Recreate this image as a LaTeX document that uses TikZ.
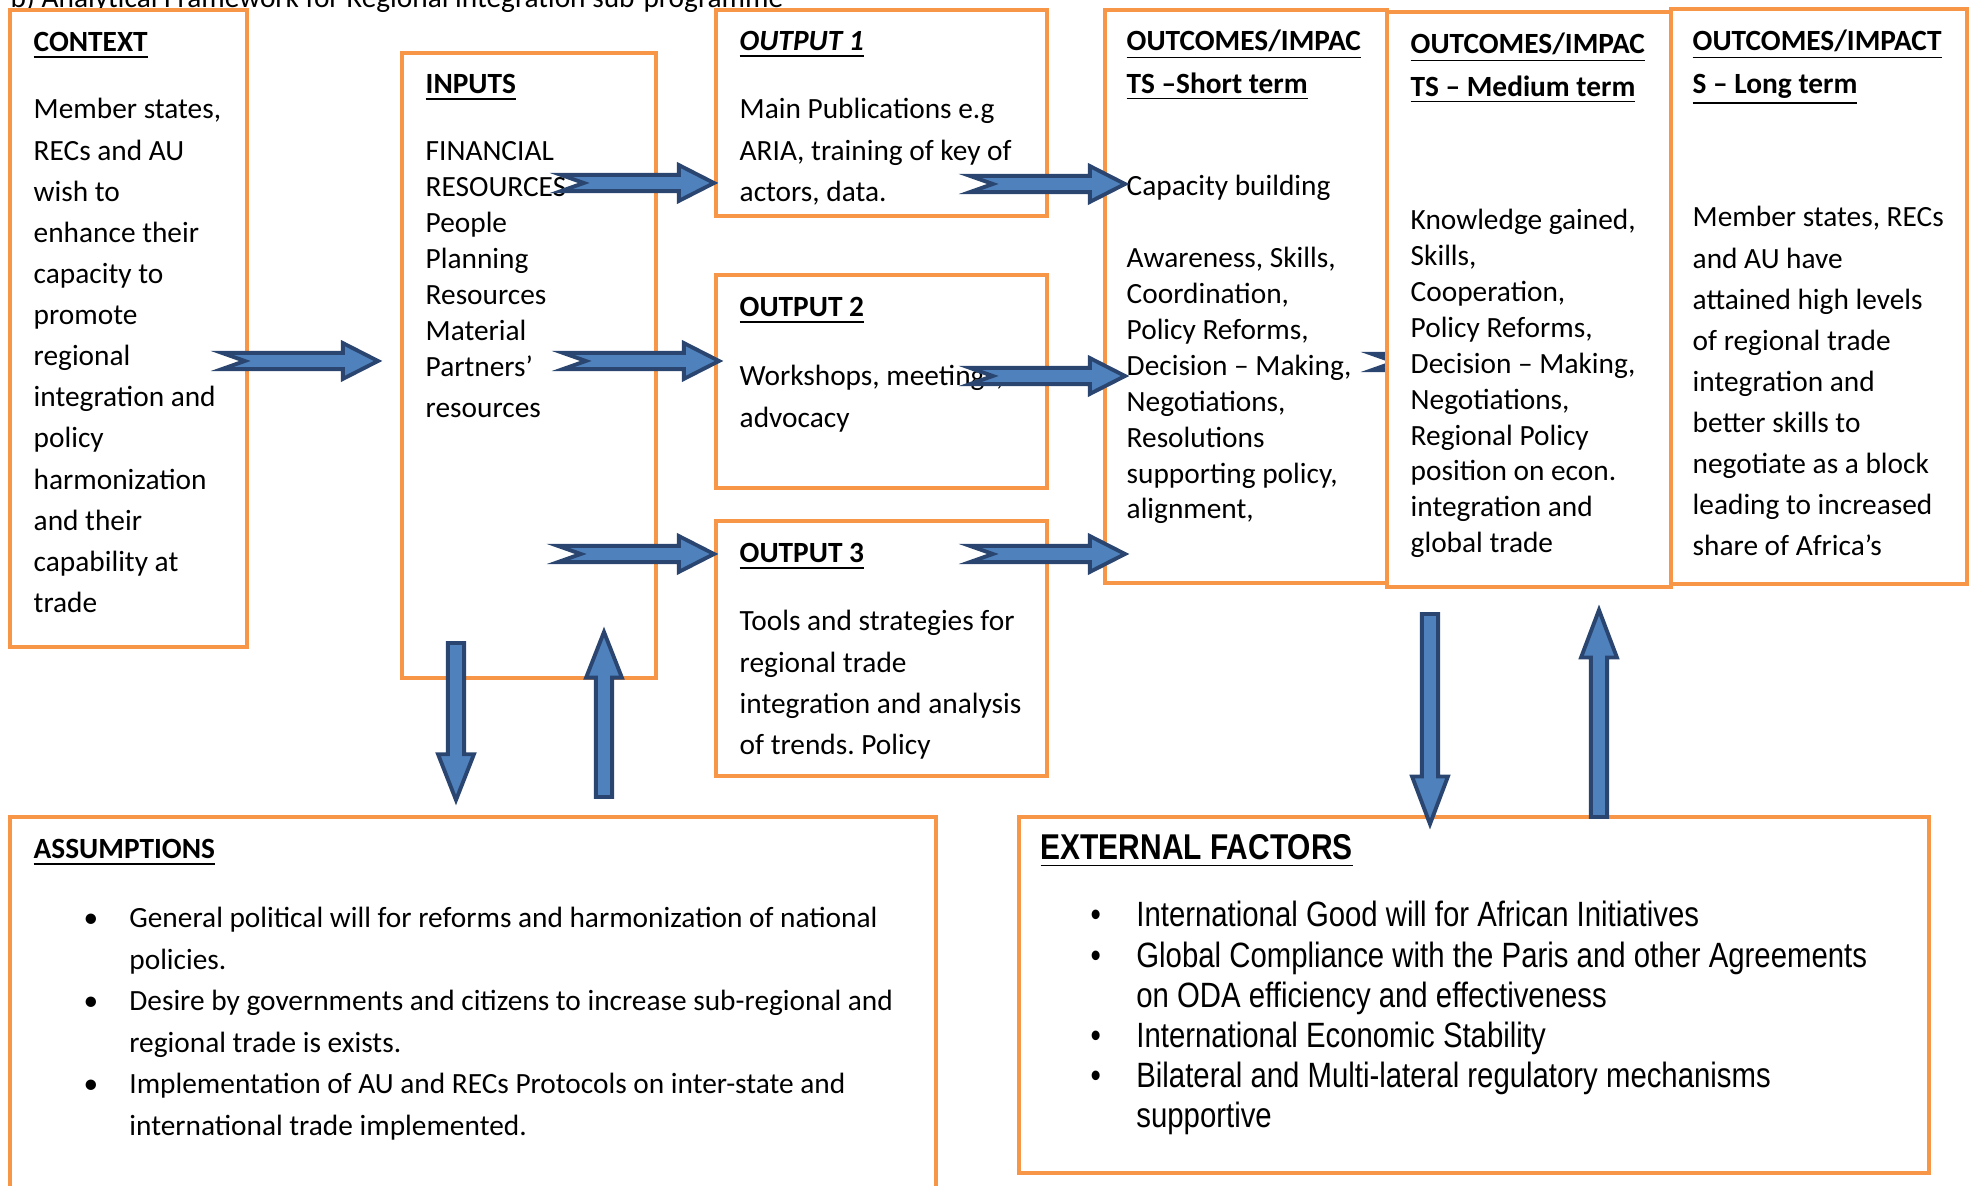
\documentclass[tikz,border=0pt]{standalone}
\usepackage{fontspec}
\setmainfont{Carlito}
\newfontfamily\extfont[FakeStretch=0.835]{Liberation Sans}
\usetikzlibrary{calc}
\definecolor{boxorange}{HTML}{F79646}
\definecolor{arrowblue}{HTML}{4F81BD}
\definecolor{arrowline}{HTML}{2A4670}
\tikzset{
  obox/.style={draw=boxorange, line width=1.3pt, fill=white, inner sep=0pt},
  barrow/.style={fill=arrowblue, draw=arrowline, line width=1.1pt, line join=miter},
  plain/.style={anchor=base west, inner sep=0pt, align=flush left, text width=30mm, font=\fontsize{8.35}{11.7}\selectfont},
  tight/.style={plain, font=\fontsize{8.35}{10.2}\selectfont},
  head/.style={plain, font=\fontsize{8.35}{12}\selectfont\bfseries},
}
% block arrow: [notch] {head length} {from} {to}
\newcommand{\blockarrow}[4][0pt]{%
  \coordinate (bhead) at ($(#4)!#2!(#3)$);
  \filldraw[barrow] ($(#3)!2.3pt!90:(#4)$) -- ($(bhead)!2.3pt!-90:(#3)$)
    -- ($(bhead)!5.1pt!-90:(#3)$) -- (#4) -- ($(bhead)!5.1pt!90:(#3)$)
    -- ($(bhead)!2.3pt!90:(#3)$) -- ($(#3)!2.3pt!-90:(#4)$)
    -- ($(#3)!#1!(#4)$) -- cycle;}
\newcommand{\bitem}{\hangindent=13pt\hangafter=1\noindent\makebox[13pt][l]{\textbullet}}
\frenchspacing
\begin{document}
\begin{tikzpicture}[x=0.1mm,y=-0.1mm]
\useasboundingbox (0,0) rectangle (1977,1186);
\node[anchor=base west,inner sep=0pt,font=\fontsize{8.35}{11.7}\selectfont] (title) at (10,8) {b) Analytical Framework for Regional integration sub-programme};

% boxes
\node[obox,minimum width=23.7mm,minimum height=63.7mm] (context) at (128.5,328.5) {};
\node[obox,minimum width=25.4mm,minimum height=62.5mm] (inputs) at (529,365.5) {};
\node[obox,minimum width=33.1mm,minimum height=20.6mm] (out1) at (881.5,113) {};
\node[obox,minimum width=33.1mm,minimum height=21.3mm] (out2) at (881.5,381.5) {};
\node[obox,minimum width=33.1mm,minimum height=25.5mm] (out3) at (881.5,648.5) {};
\node[obox,minimum width=28.2mm,minimum height=57.3mm] (short) at (1246,296.5) {};
\coordinate (sm1) at (1372,362);
\coordinate (sm2) at (1530,362);
\blockarrow[6.5pt]{10pt}{sm1}{sm2}
\node[obox,minimum width=28.4mm,minimum height=57.5mm] (medium) at (1529,299.5) {};
\node[obox,minimum width=29.6mm,minimum height=57.5mm] (long) at (1819,296.5) {};
\node[obox,minimum width=92.6mm,minimum height=38.3mm] (assum) at (473,1008.5) {};
\node[obox,minimum width=91.0mm,minimum height=35.6mm] (extern) at (1474,995) {};

% texts
\node[head] (ctxhead) at (33,52) {\underline{CONTEXT}};
\node[plain] (ctxtext) at (33,119) {Member states,\\RECs and AU\\wish to\\enhance their\\capacity to\\promote\\regional\\integration and\\policy\\harmonization\\and their\\capability at\\trade};
\node[head] (inphead) at (425,94) {\underline{INPUTS}};
\node[tight] (inptext) at (425,161) {FINANCIAL\\RESOURCES\\People\\Planning\\Resources\\Material\\Partners’\\[1.7pt]resources};
\node[head] (o1head) at (739,51) {\underline{\textit{OUTPUT 1}}};
\node[plain] (o1text) at (739,119) {Main Publications e.g\\ARIA, training of key of\\actors, data.};
\node[head] (o2head) at (739,317) {\underline{OUTPUT 2}};
\node[plain] (o2text) at (739,386) {Workshops, meetings,\\advocacy};
\node[head] (o3head) at (739,563) {\underline{OUTPUT 3}};
\node[plain] (o3text) at (739,631) {Tools and strategies for\\regional trade\\integration and analysis\\of trends. Policy};
\node[head] (shhead) at (1126,51) {\underline{OUTCOMES/IMPAC}\\\underline{TS –Short term}};
\node[plain] (shcap) at (1126,196) {Capacity building};
\node[tight] (shtext) at (1126,268) {Awareness, Skills,\\Coordination,\\Policy Reforms,\\Decision – Making,\\Negotiations,\\Resolutions\\supporting policy,\\alignment,};
\node[head] (mdhead) at (1410,54) {\underline{OUTCOMES/IMPAC}\\\underline{TS – Medium term}};
\node[tight] (mdtext) at (1410,230) {Knowledge gained,\\Skills,\\Cooperation,\\Policy Reforms,\\Decision – Making,\\Negotiations,\\Regional Policy\\position on econ.\\integration and\\global trade};
\node[head] (lghead) at (1692,51) {\underline{OUTCOMES/IMPACT}\\\underline{S – Long term}};
\node[plain] (lgtext) at (1692,227) {Member states, RECs\\and AU have\\attained high levels\\of regional trade\\integration and\\better skills to\\negotiate as a block\\leading to increased\\share of Africa’s};
\node[head] (ashead) at (33,859) {\underline{ASSUMPTIONS}};
\node[plain,text width=84mm,font=\fontsize{8.35}{11.8}\selectfont] (astext) at (83,928) {%
\bitem General political will for reforms and harmonization of national\newline policies.\par
\bitem Desire by governments and citizens to increase sub-regional and\newline regional trade is exists.\par
\bitem Implementation of AU and RECs Protocols on inter-state and\newline international trade implemented.\par};
\node[plain,text width=60mm,font=\extfont\fontsize{10.2}{12}\selectfont\bfseries] (exhead) at (1040,860) {\underline{EXTERNAL FACTORS}};
\node[plain,text width=84mm,font=\extfont\fontsize{10}{11.4}\selectfont] (extext) at (1090,927) {%
\bitem International Good will for African Initiatives\par
\bitem Global Compliance with the Paris and other Agreements\newline on ODA efficiency and effectiveness\par
\bitem International Economic Stability\par
\bitem Bilateral and Multi-lateral regulatory mechanisms\newline supportive\par};

% arrows
\coordinate (ci1) at (222,361);  \coordinate (ci2) at (378,361);
\coordinate (io1a) at (561,183); \coordinate (io1b) at (714,183);
\coordinate (io2a) at (563,361); \coordinate (io2b) at (719,361);
\coordinate (io3a) at (558,554); \coordinate (io3b) at (714,554);
\coordinate (os1a) at (970,184); \coordinate (os1b) at (1125,184);
\coordinate (os2a) at (970,376); \coordinate (os2b) at (1125,376);
\coordinate (os3a) at (970,554); \coordinate (os3b) at (1125,554);
\blockarrow[6.5pt]{10pt}{ci1}{ci2}
\blockarrow[6.5pt]{10pt}{io1a}{io1b}
\blockarrow[6.5pt]{10pt}{io2a}{io2b}
\blockarrow[6.5pt]{10pt}{io3a}{io3b}
\blockarrow[6.5pt]{10pt}{os1a}{os1b}
\blockarrow[6.5pt]{10pt}{os2a}{os2b}
\blockarrow[6.5pt]{10pt}{os3a}{os3b}
\coordinate (ia1) at (456,643);  \coordinate (ia2) at (456,800);
\coordinate (ai1) at (604,797);  \coordinate (ai2) at (604,632);
\coordinate (me1) at (1430,614); \coordinate (me2) at (1430,824);
\coordinate (em1) at (1599,817); \coordinate (em2) at (1599,610);
\blockarrow{13pt}{ia1}{ia2}
\blockarrow{13pt}{ai1}{ai2}
\blockarrow{13.5pt}{me1}{me2}
\blockarrow{13.5pt}{em1}{em2}
\end{tikzpicture}
\end{document}
